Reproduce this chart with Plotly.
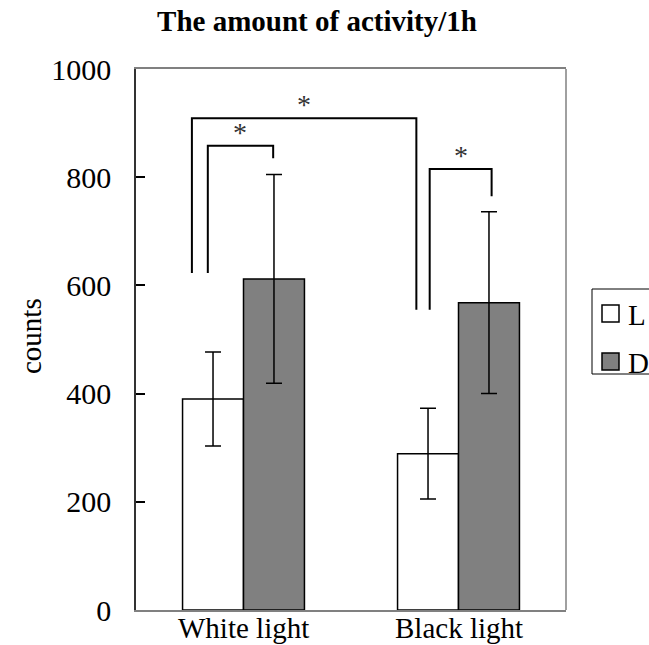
import plotly.graph_objects as go

# ---- data ----
categories = ["White light", "Black light"]
series_names = ["L", "D"]
values_L = [390, 289]
errors_L = [87, 84]
values_D = [612, 568]
errors_D = [193, 168]
series_colors = ["white", "#808080"]

# significance brackets
bracket_x_left = [-0.240, -0.166, 0.866]
bracket_x_right = [0.804, 0.138, 1.154]
bracket_y_top = [909, 858, 815]
bracket_y_left_end = [623, 623, 555]
bracket_y_right_end = [555, 835, 765]
bracket_labels = ["*", "*", "*"]

y_ticks = [0, 200, 400, 600, 800, 1000]

FONT = "Liberation Serif, Times New Roman, serif"

# Page body margin is removed in the page script below, so figure px == window px.
W, H = 649, 645
L_PX, R_PX, T_PX, B_PX = 136, 566, 69, 610


def px_x(px):
    return (px - L_PX) / (R_PX - L_PX)


def px_y(py):
    return (B_PX - py) / (B_PX - T_PX)


fig = go.Figure()
fig.add_trace(go.Bar(
    x=[0, 1], y=values_L, name=series_names[0],
    marker=dict(color=series_colors[0], line=dict(color="black", width=1.5)),
    error_y=dict(type="data", array=errors_L, color="black", thickness=1.5, width=8),
))
fig.add_trace(go.Bar(
    x=[0, 1], y=values_D, name=series_names[1],
    marker=dict(color=series_colors[1], line=dict(color="black", width=1.5)),
    error_y=dict(type="data", array=errors_D, color="black", thickness=1.5, width=8),
))

for xl, xr, yt, yl, yr, lab in zip(bracket_x_left, bracket_x_right, bracket_y_top,
                                   bracket_y_left_end, bracket_y_right_end, bracket_labels):
    fig.add_trace(go.Scatter(
        x=[xl, xl, xr, xr], y=[yl, yt, yt, yr], mode="lines",
        line=dict(color="black", width=2), showlegend=False, hoverinfo="skip",
    ))
    fig.add_annotation(
        x=(xl + xr) / 2, y=yt, xref="x", yref="y", text=lab, showarrow=False,
        yanchor="bottom", yshift=-4, font=dict(family=FONT, size=28, color="#333333"),
    )

# category labels under the axis
for i, cat in enumerate(categories):
    fig.add_annotation(x=i, y=px_y(628), xref="x", yref="paper", text=cat,
                       showarrow=False, xanchor="center", yanchor="middle",
                       font=dict(family=FONT, size=29, color="black"))

# right frame edge (gray)
fig.add_shape(type="line", xref="paper", yref="paper", x0=1, x1=1, y0=0, y1=1,
              line=dict(color="#808080", width=1.5))

# legend box (drawn manually so symbol size matches)
fig.add_shape(type="rect", xref="paper", yref="paper",
              x0=px_x(592), x1=px_x(720), y0=px_y(374), y1=px_y(289),
              line=dict(color="black", width=1), fillcolor="white", layer="above")
legend_centers = [313.5, 361.5]
for name, col, cy in zip(series_names, series_colors, legend_centers):
    fig.add_shape(type="rect", xref="paper", yref="paper",
                  x0=px_x(602), x1=px_x(619), y0=px_y(cy + 8.5), y1=px_y(cy - 8.5),
                  line=dict(color="black", width=1.5), fillcolor=col, layer="above")
    fig.add_annotation(text=name, xref="paper", yref="paper", x=px_x(626), y=px_y(cy + 1),
                       xanchor="left", yanchor="middle", showarrow=False,
                       font=dict(family=FONT, size=29, color="black"))

fig.update_layout(
    width=W, height=H,
    margin=dict(l=L_PX, r=W - R_PX, t=T_PX, b=H - B_PX, pad=0, autoexpand=False),
    paper_bgcolor="white", plot_bgcolor="white",
    barmode="group", bargap=0.433, bargroupgap=0,
    font=dict(family=FONT, size=29, color="black"),
    title=dict(text="<b>The amount of activity/1h</b>", xref="container", yref="container",
               x=317 / W, y=1 - 21 / H, xanchor="center", yanchor="middle",
               font=dict(family=FONT, size=29, color="black")),
    showlegend=False,
    hovermode=False,
)
fig.update_xaxes(
    range=[-0.5, 1.5], tickvals=[0, 1], ticktext=["", ""],
    showline=True, linecolor="#808080", linewidth=1.5, mirror=True,
    ticks="", showgrid=False, zeroline=False,
)
fig.update_yaxes(
    range=[0, 1000], tickvals=y_ticks,
    showline=True, linecolor="#333333", linewidth=1.5, mirror=False,
    ticks="inside", ticklen=9, tickcolor="black", tickwidth=1.5,
    showgrid=False, zeroline=False, ticklabelstandoff=17,
    tickfont=dict(family=FONT, size=30),
)
fig.add_annotation(
    text="counts", textangle=-90, xref="paper", yref="paper",
    x=px_x(31), y=px_y(336), showarrow=False,
    xanchor="center", yanchor="middle", font=dict(family=FONT, size=29),
)

fig.write_html("out.html", config={"displayModeBar": False},
               post_script="document.body.style.margin='0';")
